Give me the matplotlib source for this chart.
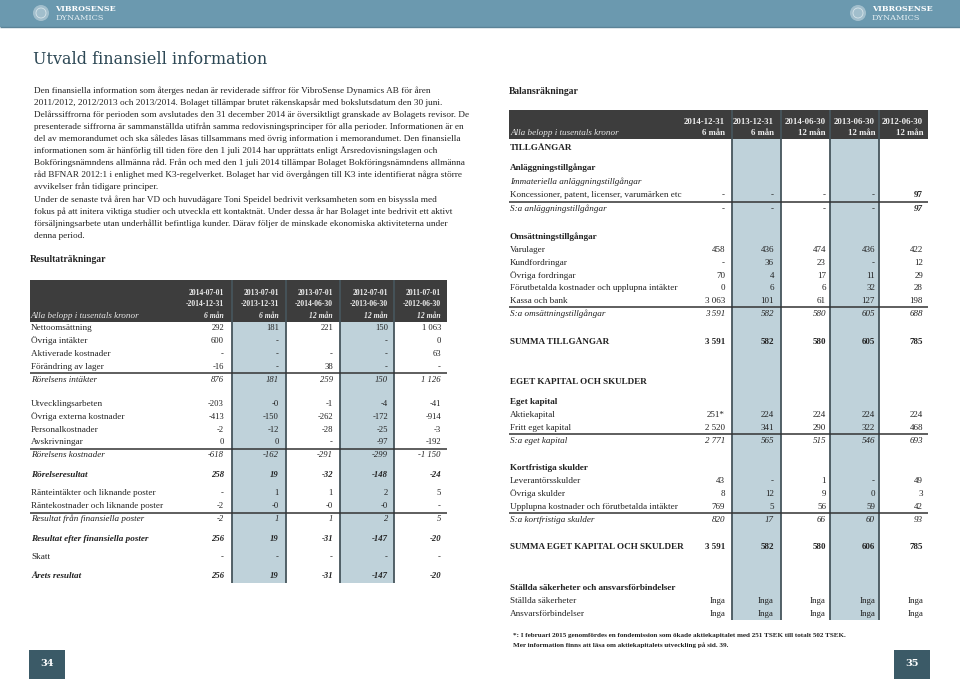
import matplotlib
matplotlib.use("Agg")
import matplotlib.pyplot as plt
from matplotlib.patches import Rectangle, Circle

# ---------------- DATA ----------------
title = "Utvald finansiell information"
para1 = [
    "Den finansiella information som återges nedan är reviderade siffror för VibroSense Dynamics AB för åren",
    "2011/2012, 2012/2013 och 2013/2014. Bolaget tillämpar brutet räkenskapsår med bokslutsdatum den 30 juni.",
    "Delårssiffrorna för perioden som avslutades den 31 december 2014 är översiktligt granskade av Bolagets revisor. De",
    "presenterade siffrorna är sammanställda utifrån samma redovisningsprinciper för alla perioder. Informationen är en",
    "del av memorandumet och ska således läsas tillsammans med övrig information i memorandumet. Den finansiella",
    "informationen som är hänförlig till tiden före den 1 juli 2014 har upprättats enligt Årsredovisningslagen och",
    "Bokföringsnämndens allmänna råd. Från och med den 1 juli 2014 tillämpar Bolaget Bokföringsnämndens allmänna",
    "råd BFNAR 2012:1 i enlighet med K3-regelverket. Bolaget har vid övergången till K3 inte identifierat några större",
    "avvikelser från tidigare principer.",
]
para2 = [
    "Under de senaste två åren har VD och huvudägare Toni Speidel bedrivit verksamheten som en bisyssla med",
    "fokus på att initera viktiga studier och utveckla ett kontaktnät. Under dessa år har Bolaget inte bedrivit ett aktivt",
    "försäljningsarbete utan underhållit befintliga kunder. Därav följer de minskade ekonomiska aktiviteterna under",
    "denna period.",
]

income_title = "Resultaträkningar"
income_periods_from = ["2014-07-01", "2013-07-01", "2013-07-01", "2012-07-01", "2011-07-01"]
income_periods_to = ["-2014-12-31", "-2013-12-31", "-2014-06-30", "-2013-06-30", "-2012-06-30"]
income_lengths = ["6 mån", "6 mån", "12 mån", "12 mån", "12 mån"]
unit_label = "Alla belopp i tusentals kronor"

income_labels = [
    "Nettoomsättning", "Övriga intäkter", "Aktiverade kostnader", "Förändring av lager",
    "Rörelsens intäkter",
    "Utvecklingsarbeten", "Övriga externa kostnader", "Personalkostnader", "Avskrivningar",
    "Rörelsens kostnader",
    "Rörelseresultat",
    "Ränteintäkter och liknande poster", "Räntekostnader och liknande poster",
    "Resultat från finansiella poster",
    "Resultat efter finansiella poster",
    "Skatt",
    "Årets resultat",
]
income_values = [
    ["292", "181", "221", "150", "1 063"],
    ["600", "-", "", "-", "0"],
    ["-", "-", "-", "-", "63"],
    ["-16", "-", "38", "-", "-"],
    ["876", "181", "259", "150", "1 126"],
    ["-203", "-0", "-1", "-4", "-41"],
    ["-413", "-150", "-262", "-172", "-914"],
    ["-2", "-12", "-28", "-25", "-3"],
    ["0", "0", "-", "-97", "-192"],
    ["-618", "-162", "-291", "-299", "-1 150"],
    ["258", "19", "-32", "-148", "-24"],
    ["-", "1", "1", "2", "5"],
    ["-2", "-0", "-0", "-0", "-"],
    ["-2", "1", "1", "2", "5"],
    ["256", "19", "-31", "-147", "-20"],
    ["-", "-", "-", "-", "-"],
    ["256", "19", "-31", "-147", "-20"],
]

balance_title = "Balansräkningar"
balance_dates = ["2014-12-31", "2013-12-31", "2014-06-30", "2013-06-30", "2012-06-30"]
balance_lengths = ["6 mån", "6 mån", "12 mån", "12 mån", "12 mån"]
balance_labels = [
    "TILLGÅNGAR",
    "Anläggningstillgångar",
    "Immateriella anläggningstillgångar",
    "Koncessioner, patent, licenser, varumärken etc",
    "S:a anläggningstillgångar",
    "Omsättningstillgångar",
    "Varulager", "Kundfordringar", "Övriga fordringar",
    "Förutbetalda kostnader och upplupna intäkter", "Kassa och bank",
    "S:a omsättningstillgångar",
    "SUMMA TILLGÅNGAR",
    "EGET KAPITAL OCH SKULDER",
    "Eget kapital",
    "Aktiekapital", "Fritt eget kapital",
    "S:a eget kapital",
    "Kortfristiga skulder",
    "Leverantörsskulder", "Övriga skulder", "Upplupna kostnader och förutbetalda intäkter",
    "S:a kortfristiga skulder",
    "SUMMA EGET KAPITAL OCH SKULDER",
    "Ställda säkerheter och ansvarsförbindelser",
    "Ställda säkerheter", "Ansvarsförbindelser",
]
balance_values = [
    None, None, None,
    ["-", "-", "-", "-", "97"],
    ["-", "-", "-", "-", "97"],
    None,
    ["458", "436", "474", "436", "422"],
    ["-", "36", "23", "-", "12"],
    ["70", "4", "17", "11", "29"],
    ["0", "6", "6", "32", "28"],
    ["3 063", "101", "61", "127", "198"],
    ["3 591", "582", "580", "605", "688"],
    ["3 591", "582", "580", "605", "785"],
    None, None,
    ["251*", "224", "224", "224", "224"],
    ["2 520", "341", "290", "322", "468"],
    ["2 771", "565", "515", "546", "693"],
    None,
    ["43", "-", "1", "-", "49"],
    ["8", "12", "9", "0", "3"],
    ["769", "5", "56", "59", "42"],
    ["820", "17", "66", "60", "93"],
    ["3 591", "582", "580", "606", "785"],
    None,
    ["Inga", "Inga", "Inga", "Inga", "Inga"],
    ["Inga", "Inga", "Inga", "Inga", "Inga"],
]
footnote = [
    "*: I februari 2015 genomfördes en fondemission som ökade aktiekapitalet med 251 TSEK till totalt 502 TSEK.",
    "Mer information finns att läsa om aktiekapitalets utveckling på sid. 39.",
]
page_numbers = ["34", "35"]

# ---------------- LAYOUT / STYLE ----------------
SERIF = ["Liberation Serif", "DejaVu Serif"]
TITLEF = ["DejaVu Serif"]
BAND = "#6b99af"
DARK = "#3d3d3d"
SHADE = "#bfd2da"
EDGE = "#46555c"
TXT = "#222222"
HDR = "#eeeeee"
PAGEBOX = "#3b5a67"
FL = 6.6   # label size
FN = 6.2   # number size

fig = plt.figure(figsize=(9.6, 6.79), dpi=100)
ax = fig.add_axes([0, 0, 1, 1])
ax.set_xlim(0, 960)
ax.set_ylim(679, 0)
ax.axis("off")

def T(x, y, s, size=FL, ha="left", weight="normal", style="normal", color=TXT, family=SERIF, va="center"):
    ax.text(x, y, s, fontsize=size, ha=ha, va=va, fontweight=weight, fontstyle=style,
            color=color, family=family)

def L(xs, ys, color, lw):
    ax.plot(xs, ys, color=color, lw=lw, solid_capstyle="butt")

# top band
ax.add_patch(Rectangle((0, 0), 960, 27, color=BAND, lw=0))
L([0, 960], [27, 27], "#5b8397", 1)
for cx, tx in [(41, 55), (858, 872)]:
    ax.add_patch(Circle((cx, 13), 8, color="#a8c3d0", lw=0, alpha=0.9))
    ax.add_patch(Circle((cx, 13), 5, fill=False, ec="#d6e4ea", lw=0.6))
    T(tx, 9, "VIBROSENSE", size=5.7, weight="bold", color="white", family=TITLEF)
    T(tx, 18, "DYNAMICS", size=5.9, color="#e4eef2", family=TITLEF)

# title
T(33, 59, title, size=11.5, color="#2d4855", family=TITLEF)

# paragraphs
for i, line in enumerate(para1):
    T(34, 91 + i * 12, line, size=6.7)
for i, line in enumerate(para2):
    T(34, 200 + i * 12, line, size=6.7)

# ---------- left table ----------
LX0, LX1 = 30, 447
lcols = [224, 279, 333, 388, 441]
lshade = [(232, 286), (340, 394)]
T(30, 260, income_title, size=6.9, weight="bold")
ax.add_patch(Rectangle((LX0, 280), LX1 - LX0, 42, color=DARK, lw=0))
for a, b in lshade:
    ax.add_patch(Rectangle((a, 322), b - a, 261, color=SHADE, lw=0))
    for xx in (a, b):
        L([xx, xx], [280, 583], EDGE, 1.3)
for i in range(5):
    T(lcols[i], 293, income_periods_from[i], size=5.5, ha="right", weight="bold", color=HDR)
    T(lcols[i], 304.5, income_periods_to[i], size=5.5, ha="right", weight="bold", color=HDR)
    T(lcols[i], 316, income_lengths[i], size=5.5, ha="right", weight="bold", style="italic", color=HDR)
T(31, 316, unit_label, size=FL, style="italic", color="#e6e6e6")

income_y = [328, 341, 354, 367, 380, 404, 417, 430, 442, 455, 475, 493, 506, 519, 539, 557, 576]
income_style = ["n", "n", "n", "n", "i", "n", "n", "n", "n", "i", "bi", "n", "n", "i", "bi", "n", "bi"]
for lab, vals, y, st in zip(income_labels, income_values, income_y, income_style):
    w = "bold" if "b" in st else "normal"
    s = "italic" if "i" in st else "normal"
    T(31, y, lab, weight=w, style=s)
    for x, v in zip(lcols, vals):
        T(x, y, v, size=FN, ha="right", weight=w, style=s)
for yl in (373, 449, 513):
    L([LX0, LX1], [yl, yl], "#333333", 1.1)

# ---------- right table ----------
RX0, RX1 = 509, 928
rcols = [725, 774, 826, 875, 923]
rshade = [(732, 781), (830, 879)]
T(509, 92, balance_title, size=6.9, weight="bold")
ax.add_patch(Rectangle((RX0, 110), RX1 - RX0, 29, color=DARK, lw=0))
for a, b in rshade:
    ax.add_patch(Rectangle((a, 139), b - a, 481, color=SHADE, lw=0))
    for xx in (a, b):
        L([xx, xx], [110, 620], EDGE, 1.3)
for i in range(5):
    T(rcols[i], 122.5, balance_dates[i], size=6.3, ha="right", weight="bold", color=HDR)
    T(rcols[i], 133, balance_lengths[i], size=6.3, ha="right", weight="bold", color=HDR)
T(510, 133, unit_label, size=FL, style="italic", color="#e6e6e6")

balance_y = [148, 168, 182, 195, 209, 237, 250, 263, 276, 288, 301, 314, 342, 382, 402, 415, 428,
             441, 468, 481, 494, 507, 520, 547, 588, 601, 614]
balance_style = ["b", "b", "i", "n", "i", "b", "n", "n", "n", "n", "n", "i", "b", "b", "b", "n", "n",
                 "i", "b", "n", "n", "n", "i", "b", "b", "n", "n"]
for k, (lab, vals, y, st) in enumerate(zip(balance_labels, balance_values, balance_y, balance_style)):
    w = "bold" if "b" in st else "normal"
    s = "italic" if "i" in st else "normal"
    T(510, y, lab, weight=w, style=s)
    if vals is None:
        continue
    for j, (x, v) in enumerate(zip(rcols, vals)):
        vw = w
        if k in (3, 4) and j == 4:
            vw = "bold"
        T(x, y, v, size=FN + 0.3, ha="right", weight=vw, style=s)
for yl in (202, 307, 434, 513):
    L([RX0, RX1], [yl, yl], "#333333", 1.1)

for i, line in enumerate(footnote):
    T(513, 636 + i * 9.5, line, size=5.1, weight="bold")

# page numbers
for (x0, num) in [(29, page_numbers[0]), (894, page_numbers[1])]:
    ax.add_patch(Rectangle((x0, 650), 36, 29, color=PAGEBOX, lw=0))
    T(x0 + 18, 663, num, size=7, ha="center", weight="bold", color="white", family=TITLEF)

fig.savefig("out.png", dpi=100)
